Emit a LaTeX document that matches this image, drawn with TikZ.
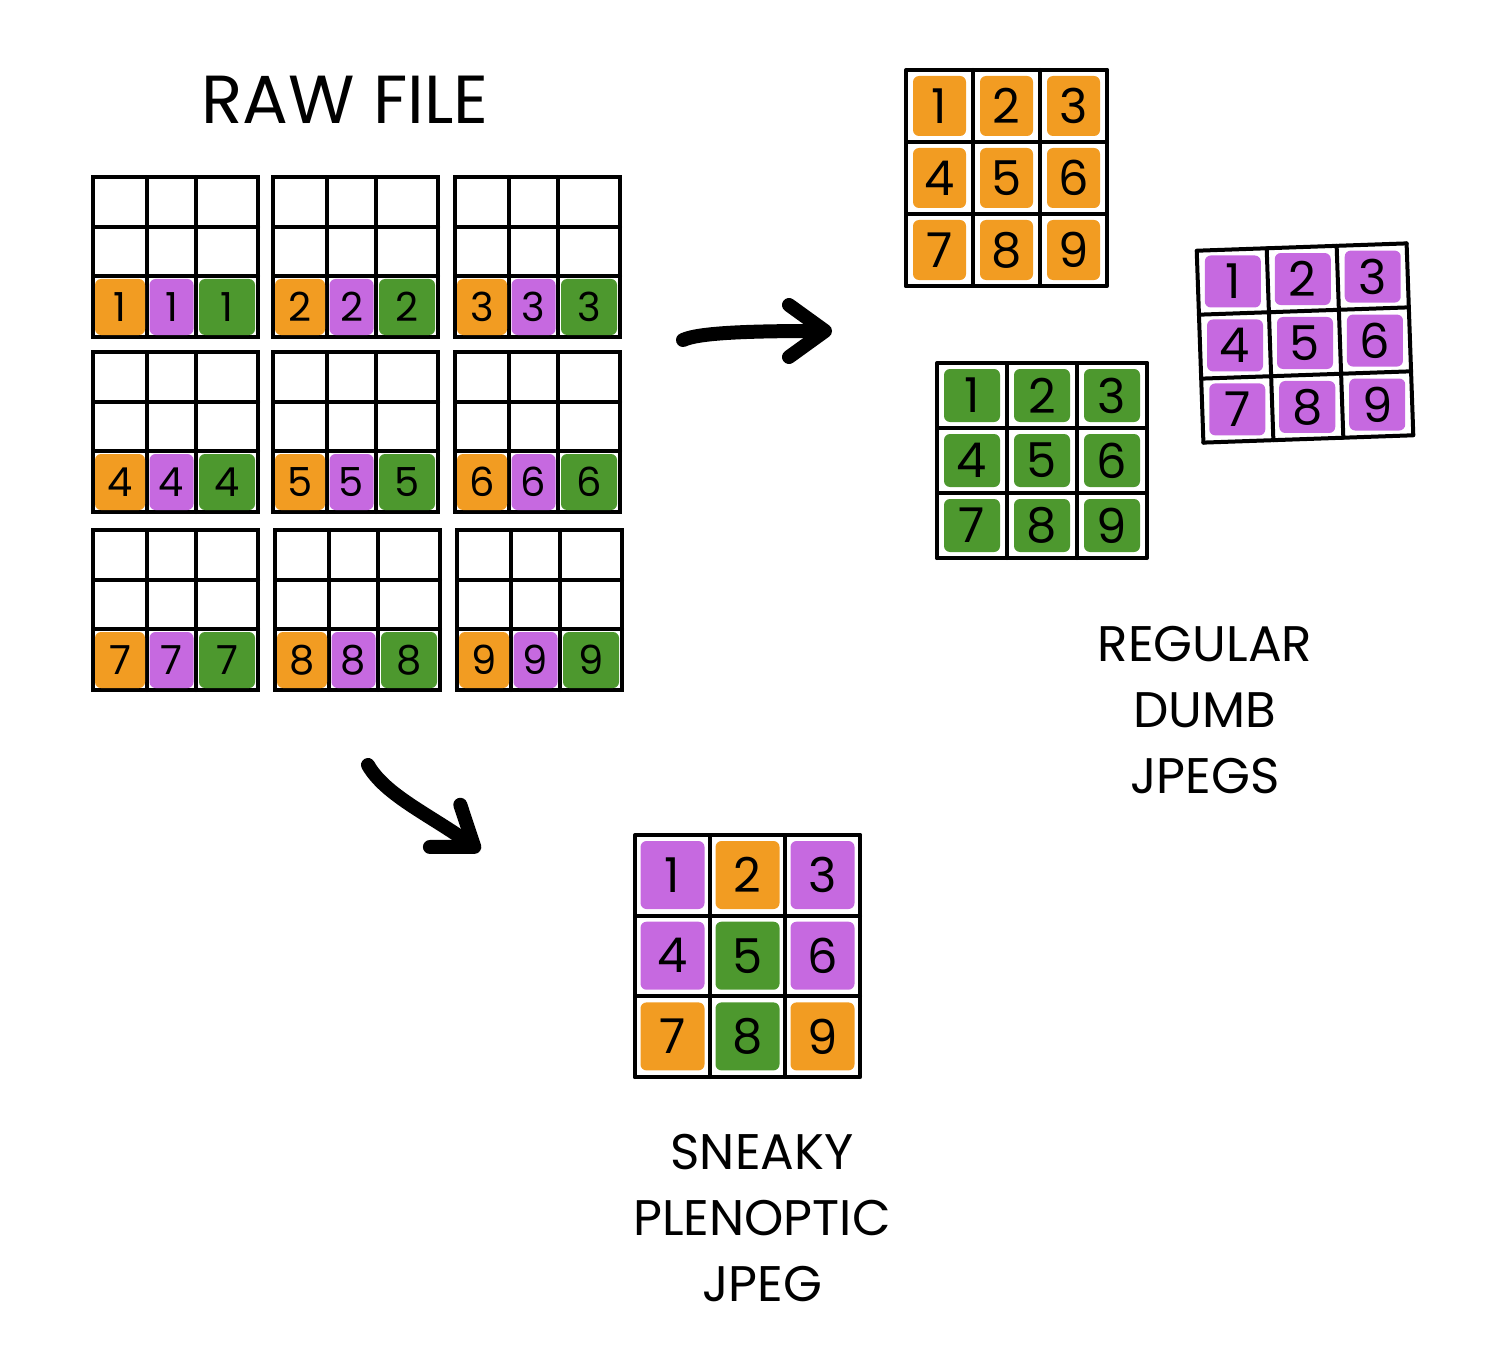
\documentclass[tikz,border=0pt]{standalone}
\usepackage{fontspec}
\setmainfont{Poppins}
\usetikzlibrary{arrows.meta}

\definecolor{crayonorange}{RGB}{242,156,34}
\definecolor{crayonpurple}{RGB}{198,105,224}
\definecolor{crayongreen}{RGB}{77,152,46}

\tikzset{
  grid line/.style={line width=2bp,line cap=round},
  swatch/.style={rectangle,rounded corners=3bp,inner sep=0pt},
  rawdigit/.style={font=\fontsize{20bp}{20bp}\selectfont},
  jpgdigit/.style={font=\fontsize{24bp}{24bp}\selectfont},
  caption/.style={align=center,font=\fontsize{25bp}{33bp}\selectfont},
  fat arrow/.style={line width=7bp,line cap=round,line join=round,
    -{Straight Barb[length=18bp,width=26bp,line cap=round,line join=round]}},
}

\begin{document}
\begin{tikzpicture}[x=0.5bp,y=-0.5bp]
        \useasboundingbox (0,0) rectangle (1500,1345);
        %% raw file
        \node (rawtitle) at (345,100) [font=\fontsize{34bp}{34bp}\selectfont] {RAW FILE};
        \foreach \n/\bx/\by in {1/93/177,2/273/177,3/455/177,4/93/352,5/273/352,6/455/352,7/93/530,8/275/530,9/457/530}{
          \draw[grid line] (\bx,\by) rectangle ++(165,160)
            (\bx,\by+50) -- ++(165,0) (\bx,\by+99) -- ++(165,0)
            (\bx+54,\by) -- ++(0,160) (\bx+103,\by) -- ++(0,160);
          \node (raw\n o) at (\bx+27,\by+130) [swatch,rawdigit,fill=crayonorange,minimum width=25bp,minimum height=28bp] {\n};
          \node (raw\n p) at (\bx+78.5,\by+130) [swatch,rawdigit,fill=crayonpurple,minimum width=22bp,minimum height=28bp] {\n};
          \node (raw\n g) at (\bx+134,\by+130) [swatch,rawdigit,fill=crayongreen,minimum width=28bp,minimum height=28bp] {\n};
        }
        %% regular jpegs
        \foreach \g/\gx/\gy/\cw/\ch/\col/\tilt in {org/906/70/67/72/crayonorange/0,grn/937/363/70/65/crayongreen/0,pur/1200/247/70/64/crayonpurple/2}{
          \begin{scope}[rotate around={\tilt:(\gx+1.5*\cw,\gy+1.5*\ch)}]
          \foreach \i in {0,...,3}
            \draw[grid line] (\gx+\i*\cw,\gy) -- ++(0,3*\ch) (\gx,\gy+\i*\ch) -- ++(3*\cw,0);
          \pgfmathsetmacro\sw{(\cw-14)/2}
          \pgfmathsetmacro\sh{(\ch-12)/2}
          \foreach \k in {1,...,9}{
            \pgfmathtruncatemacro\r{(\k-1)/3}
            \pgfmathtruncatemacro\c{mod(\k-1,3)}
            \node (\g\k) at (\gx+\c*\cw+\cw/2,\gy+\r*\ch+\ch/2) [swatch,jpgdigit,fill=\col,minimum width=\sw bp,minimum height=\sh bp] {\k};
          }
          \end{scope}
        }
        \node (regular) at (1205,710) [caption] {REGULAR\\DUMB\\JPEGS};
        %% plenoptic jpeg
        \foreach \i in {0,...,3}
          \draw[grid line] (635+\i*75,835) -- ++(0,242) (635,835+\i*80.7) -- ++(225,0);
        \foreach \k/\col in {1/crayonpurple,2/crayonorange,3/crayonpurple,4/crayonpurple,5/crayongreen,6/crayonpurple,7/crayonorange,8/crayongreen,9/crayonorange}{
          \pgfmathtruncatemacro\r{(\k-1)/3}
          \pgfmathtruncatemacro\c{mod(\k-1,3)}
          \node (plen\k) at (635+\c*75+37.5,835+\r*80.7+40) [swatch,jpgdigit,fill=\col,minimum width=32bp,minimum height=34bp] {\k};
        }
        \node (sneaky) at (762,1218) [caption] {SNEAKY\\PLENOPTIC\\JPEG};
        %% arrows
        \coordinate (rawright) at (683,340);
        \coordinate (jpgleft) at (832,331);
        \coordinate (rawbelow) at (368,765);
        \coordinate (plenleft) at (480,851);
        \draw[fat arrow] (rawright) .. controls (700,332) and (760,331) .. (jpgleft);
        \draw[fat arrow] (rawbelow) .. controls (385,795) and (430,815) .. (plenleft);
        %
\end{tikzpicture}
\end{document}
